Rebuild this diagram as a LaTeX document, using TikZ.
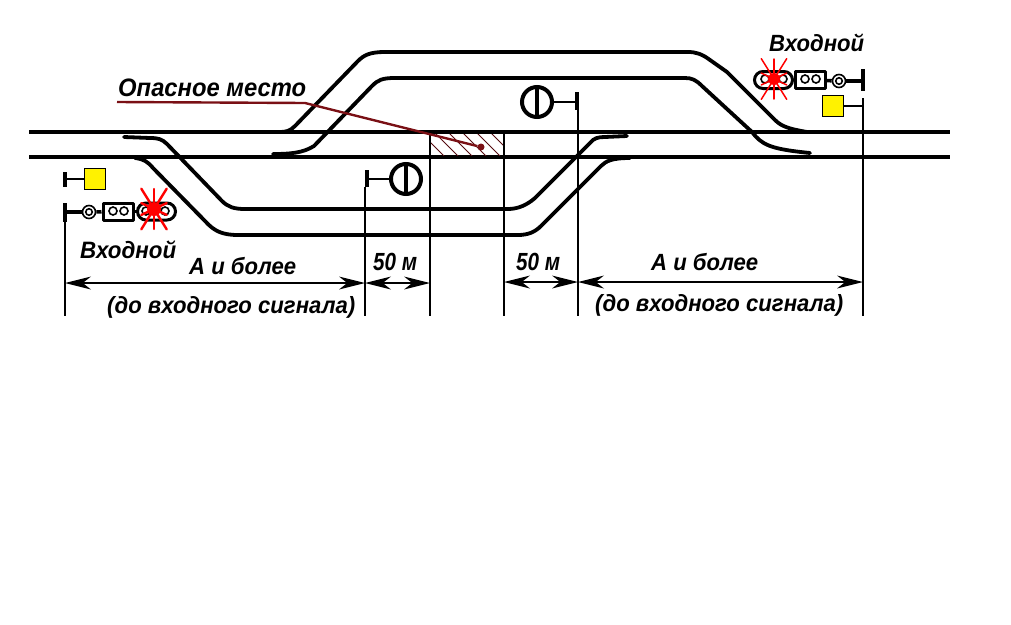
\documentclass[tikz,border=0pt]{standalone}
\usepackage{fontspec}
\setmainfont{Liberation Sans}
\usetikzlibrary{arrows.meta,shapes.misc}
\definecolor{dangerred}{HTML}{7A1015}
\definecolor{lampyellow}{HTML}{FFF200}
\newcommand{\fittext}[3][1.06]{\scalebox{1}[#1]{\resizebox{#2pt}{!}{\bfseries\itshape #3}}}
\newcommand{\redstar}[3]{%
  \foreach \ang/\len in {90/20,270/20,58/24,238/24,122/24,302/24,25/14,205/14,155/14,335/14}
    {\draw[red,line width=#2,line cap=round] (#1) -- ++(\ang:\len pt and -\len pt);}
  \fill[red] (#1) circle[radius=#3];}
\pgfdeclarearrow{
  name=Barbed,
  setup code={
    \pgfarrowssettipend{0pt}
    \pgfarrowssetbackend{-26pt}
    \pgfarrowssetlineend{-14pt}
    \pgfarrowssetvisualbackend{-19pt}
    \pgfarrowssavethe\pgflinewidth
  },
  drawing code={
    \pgfpathmoveto{\pgfqpoint{0pt}{0pt}}
    \pgfpathlineto{\pgfqpoint{-26pt}{6.5pt}}
    \pgfpathlineto{\pgfqpoint{-19pt}{1pt}}
    \pgfpathlineto{\pgfqpoint{-19pt}{-1pt}}
    \pgfpathlineto{\pgfqpoint{-26pt}{-6.5pt}}
    \pgfpathclose
    \pgfusepathqfill
  },
  defaults={}
}
\tikzset{
  x=1pt,y=-1pt,
  rail/.style={line width=4pt},
  track/.style={line width=3.8pt,line cap=round,line join=round},
  thin line/.style={line width=2pt},
  post/.style={line width=4pt},
  stem/.style={line width=3.6pt},
  dim/.style={line width=1.9pt,{Barbed}-{Barbed}},
  lampbox/.style={draw,line width=3pt,fill=white,chamfered rectangle,chamfered rectangle xsep=5pt,chamfered rectangle ysep=5pt,minimum height=17pt,inner sep=0pt,line join=round},
  lampwide/.style={draw,line width=3pt,fill=white,rounded rectangle,minimum height=17pt,inner sep=0pt},
  small ring/.style={circle,draw,line width=1.6pt,minimum size=#1,inner sep=0pt,fill=white},
  yellowbox/.style={draw,line width=1pt,fill=lampyellow,minimum size=21pt,inner sep=0pt},
  dwarf/.style={circle,draw,line width=4pt,minimum size=30pt,inner sep=0pt,fill=white},
  textlabel/.style={inner sep=0pt},
}
\begin{document}
\begin{tikzpicture}
\useasboundingbox[fill=white] (0,0) rectangle (1011,624);

% main rails
\coordinate (r1l) at (29,132); \coordinate (r1r) at (950,132);
\coordinate (r2l) at (29,157); \coordinate (r2r) at (950,157);
\draw[rail] (r1l) -- (r1r);
\draw[rail] (r2l) -- (r2r);

% hatch
\begin{scope}
\clip (430,134) rectangle (504,155);
\foreach \i in {0,...,7}
  \draw[dangerred!70!black,line width=1pt] ({418+\i*14},130) -- ({418+\i*14+30},160);
\end{scope}

% upper siding
\draw[track] (280,132) .. controls (286,132) and (290,131) .. (295,126) -- (358,61) .. controls (364,55) and (370,52) .. (385,52) -- (688,52) .. controls (696,52) and (702,54) .. (710,60) -- (727,72) -- (775,120) .. controls (782,127) and (790,129) .. (807,132);
\draw[track] (273,154) .. controls (290,154) and (303,153) .. (314,146) -- (372,86) .. controls (378,80) and (382,78) .. (395,78) -- (685,78) .. controls (692,78) and (696,80) .. (702,86) -- (752,132) .. controls (762,145) and (770,149) .. (810,153);

% lower siding
\draw[track] (124,137) -- (150,138) .. controls (158,138) and (162,139) .. (167,144) -- (222,201) .. controls (228,207) and (234,209) .. (245,209) -- (508,209) .. controls (518,209) and (527,205) .. (535,198) -- (590,143) .. controls (594,138) and (598,137) .. (605,137) -- (627,136);
\draw[track] (135,158) .. controls (144,159) and (148,162) .. (153,168) -- (205,221) .. controls (214,231) and (222,235) .. (238,235) -- (518,235) .. controls (528,235) and (535,232) .. (541,226) -- (601,166) .. controls (606,161) and (612,158) .. (630,158);

% verticals
\coordinate (v1t) at (65,222);  \coordinate (v1b) at (65,316);
\coordinate (v2t) at (365,187); \coordinate (v2b) at (365,316);
\coordinate (v3t) at (430,133); \coordinate (v3b) at (430,316);
\coordinate (v4t) at (504,133); \coordinate (v4b) at (504,316);
\coordinate (v5t) at (578,100); \coordinate (v5b) at (578,316);
\coordinate (v6t) at (863,98);  \coordinate (v6b) at (863,316);
\foreach \n in {1,...,6} \draw[thin line] (v\n t) -- (v\n b);

% danger pointer
\coordinate (dp1) at (117,102); \coordinate (dp2) at (305,103);
\node[circle,fill=dangerred,minimum size=7pt,inner sep=0pt] (dp3) at (481,147) {};
\draw[dangerred,line width=2.4pt] (dp1) -- (dp2) -- (dp3);
\node[textlabel,anchor=base west] (danger) at (118,96) {\fittext{188}{Опасное место}};

% right entry signal
\coordinate (rp1) at (863,69); \coordinate (rp2) at (863,91); \coordinate (rpm) at (863,81);
\draw[post] (rp1) -- (rp2);
\node[small ring=13pt] (rlamp) at (839,81) {};
\node[lampbox,minimum width=30pt] (rbox) at (810,80) {};
\node[lampwide,minimum width=38pt] (rwide) at (773.5,80) {};
\draw[stem] (rpm) -- (rlamp); \draw[stem] (rlamp) -- (rbox); \draw[stem] (rbox) -- (rwide);
\node[small ring=6.5pt] at (839,81) {};
\node[small ring=8pt,fill=none] at (805,79) {};
\node[small ring=8pt,fill=none] at (816,79) {};
\node[small ring=8pt,fill=none] at (765,79) {};
\node[small ring=8pt,fill=none] at (783,79) {};
\redstar{774,79}{1.5pt}{6pt}
\node[yellowbox] (ryel) at (833,105.5) {};
\coordinate (ryp) at (863,105.5);
\draw[thin line] (ryel) -- (ryp);
\node[textlabel,anchor=base west] (rname) at (769,51) {\fittext{95}{Входной}};

% left entry signal
\coordinate (lp1) at (65,203); \coordinate (lp2) at (65,222); \coordinate (lpm) at (65,212);
\draw[post] (lp1) -- (lp2);
\node[small ring=13pt] (llamp) at (89,212) {};
\node[lampbox,minimum width=30pt] (lbox) at (118,211.5) {};
\node[lampwide,minimum width=38pt] (lwide) at (156.5,211.5) {};
\draw[stem] (lpm) -- (llamp); \draw[stem] (llamp) -- (lbox); \draw[stem] (lbox) -- (lwide);
\node[small ring=6.5pt] at (89,212) {};
\node[small ring=8pt,fill=none] at (113,211) {};
\node[small ring=8pt,fill=none] at (124,211) {};
\node[small ring=8pt,fill=none] at (146,211) {};
\node[small ring=8pt,fill=none] at (165,211) {};
\redstar{154,209}{2.4pt}{7pt}
\node[yellowbox] (lyel) at (95,179) {};
\coordinate (lyp1) at (65,172); \coordinate (lyp2) at (65,187); \coordinate (lyp) at (65,179);
\draw[post] (lyp1) -- (lyp2);
\draw[thin line] (lyp) -- (lyel);
\node[textlabel,anchor=base west] (lname) at (80,258) {\fittext{96}{Входной}};

% dwarf signals
\coordinate (up1) at (577,92); \coordinate (up2) at (577,110); \coordinate (upm) at (577,102);
\draw[post] (up1) -- (up2);
\node[dwarf] (usig) at (537,102) {};
\draw[line width=3.6pt] (usig.north) -- (usig.south);
\draw[thin line] (usig.east) -- (upm);
\coordinate (dp1a) at (367,170); \coordinate (dp2a) at (367,187); \coordinate (dpm) at (367,179);
\draw[post] (dp1a) -- (dp2a);
\node[dwarf] (dsig) at (406,179) {};
\draw[line width=3.6pt] (dsig.north) -- (dsig.south);
\draw[thin line] (dsig.west) -- (dpm);

% dimensions
\coordinate (d1) at (65,283);  \coordinate (d2) at (365,283);
\coordinate (d3) at (430,283); \coordinate (d4) at (504,282);
\coordinate (d5) at (578,282); \coordinate (d6) at (863,282);
\draw[dim] (d1) -- (d2);
\draw[dim] (d2) -- (d3);
\draw[dim] (d4) -- (d5);
\draw[dim] (d5) -- (d6);

\node[textlabel,anchor=base west] (a1) at (189,274) {\fittext{107}{А и более}};
\node[textlabel,anchor=base west] (a2) at (651,270) {\fittext{107}{А и более}};
\node[textlabel,anchor=base west] (m1) at (373,270) {\fittext[1.2]{44}{50 м}};
\node[textlabel,anchor=base west] (m2) at (516,270) {\fittext[1.2]{44}{50 м}};
\node[textlabel,anchor=base west] (s1) at (107,313.5) {\fittext{248}{(до входного сигнала)}};
\node[textlabel,anchor=base west] (s2) at (595,311.5) {\fittext{248}{(до входного сигнала)}};
\end{tikzpicture}
\end{document}
